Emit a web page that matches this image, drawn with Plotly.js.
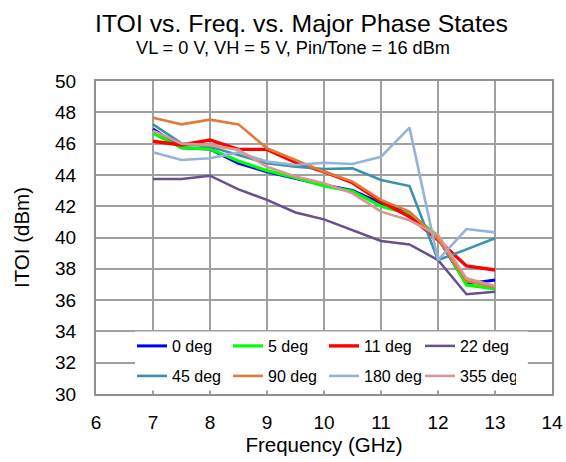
<!DOCTYPE html>
<html>
<head>
<meta charset="utf-8">
<script src="https://cdn.plot.ly/plotly-3.0.1.min.js"></script>
<style>
html,body{margin:0;padding:0;background:#fff;}
#chart{width:566px;height:462px;}
</style>
</head>
<body>
<div id="chart"></div>
<script>
const freq = [7, 7.5, 8, 8.5, 9, 9.5, 10, 10.5, 11, 11.5, 12, 12.5, 13];

const deg0   = [46.93, 45.74, 45.65, 44.74, 44.20, 43.78, 43.35, 43.00, 42.18, 41.60, 39.95, 37.03, 37.28];
const deg5   = [46.66, 45.74, 45.65, 44.89, 44.27, 43.82, 43.30, 42.95, 42.00, 41.50, 40.10, 36.97, 36.71];
const deg11  = [46.15, 45.91, 46.23, 45.63, 45.63, 44.80, 44.20, 43.50, 42.29, 41.33, 39.84, 38.18, 37.92];
const deg22  = [43.74, 43.74, 43.95, 43.08, 42.40, 41.60, 41.16, 40.48, 39.78, 39.56, 38.56, 36.37, 36.54];
const deg45  = [47.23, 46.02, 45.80, 45.27, 44.74, 44.52, 44.38, 44.42, 43.67, 43.29, 38.56, 39.24, 39.95];
const deg90  = [47.65, 47.23, 47.53, 47.23, 45.70, 44.95, 44.20, 43.57, 42.40, 41.65, 39.90, 37.22, 36.82];
const deg180 = [45.44, 44.95, 45.06, 45.44, 44.85, 44.63, 44.78, 44.70, 45.16, 47.02, 38.56, 40.54, 40.33];
const deg355 = [46.83, 46.00, 45.90, 45.60, 44.52, 43.89, 43.46, 42.82, 41.65, 41.10, 40.16, 37.39, 36.90];

const seriesNames = ["0 deg", "5 deg", "11 deg", "22 deg", "45 deg", "90 deg", "180 deg", "355 deg"];
const seriesData = [deg0, deg5, deg11, deg22, deg45, deg90, deg180, deg355];
const colors = ["#0000FF", "#00FF00", "#FF0000", "#6A4F8C", "#3A93A8", "#E07B39", "#95B3D7", "#D99694"];
const widths = [3, 3.2, 3.4, 2.5, 2.6, 2.6, 2.6, 2.6];

const traces = seriesNames.map((n, i) => ({
  x: freq, y: seriesData[i], name: n, type: "scatter", mode: "lines",
  line: {color: colors[i], width: widths[i]},
  legend: i < 4 ? "legend" : "legend2"
}));

const font = "Liberation Sans, Arial, sans-serif";
const legendBase = {
  orientation: "h", xanchor: "left", yanchor: "top",
  bgcolor: "rgba(0,0,0,0)", borderwidth: 0,
  entrywidth: 51, entrywidthmode: "pixels",
  font: {size: 16, family: font, color: "#000"},
  itemwidth: 30
};

const layout = {
  width: 566, height: 462,
  margin: {l: 96, r: 14, t: 81, b: 68},
  paper_bgcolor: "#fff", plot_bgcolor: "#fff",
  font: {family: font, color: "#000"},
  title: {
    text: "ITOI vs. Freq. vs. Major Phase States",
    font: {size: 24.8, family: font, color: "#000"},
    x: 0.5327, xref: "container", xanchor: "center",
    y: 0.9496, yref: "container", yanchor: "middle"
  },
  annotations: [{
    text: "VL = 0 V, VH = 5 V, Pin/Tone = 16 dBm",
    xref: "paper", yref: "paper", x: 0.433, y: 1.104,
    xanchor: "center", yanchor: "middle", showarrow: false,
    font: {size: 18.2, family: font, color: "#000"}
  }],
  shapes: [{
    type: "rect", xref: "paper", yref: "paper", layer: "above",
    x0: 0.0855, x1: 0.947, y0: 0.0112, y1: 0.1997,
    fillcolor: "#fff", line: {width: 0}
  }],
  xaxis: {
    range: [6, 14], dtick: 1, tick0: 6,
    showgrid: true, gridcolor: "#A0A0A0", gridwidth: 2,
    showline: true, linecolor: "#909090", linewidth: 2, mirror: true,
    zeroline: false, ticks: "", ticklabelstandoff: 10,
    tickfont: {size: 19, family: font, color: "#000"},
    title: {text: "Frequency (GHz)", font: {size: 20.5, family: font, color: "#000"}, standoff: 6}
  },
  yaxis: {
    range: [30, 50], dtick: 2, tick0: 30,
    showgrid: true, gridcolor: "#A0A0A0", gridwidth: 2,
    showline: true, linecolor: "#909090", linewidth: 2, mirror: true,
    zeroline: false, ticks: "", ticklabelstandoff: 14,
    tickfont: {size: 19, family: font, color: "#000"},
    title: {text: "ITOI (dBm)", font: {size: 20.5, family: font, color: "#000"}, standoff: 20}
  },
  legend: Object.assign({}, legendBase, {x: (132 - 96) / 456, y: 0.2077}),
  legend2: Object.assign({}, legendBase, {x: (132 - 96) / 456, y: 0.1118}),
  showlegend: true
};

Plotly.newPlot("chart", traces, layout, {displayModeBar: false, staticPlot: true});
</script>
</body>
</html>
